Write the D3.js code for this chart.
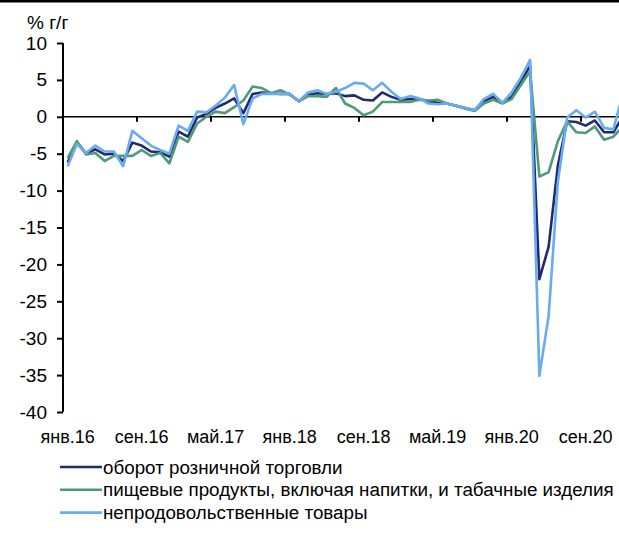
<!DOCTYPE html>
<html>
<head>
<meta charset="utf-8">
<script src="https://cdn.jsdelivr.net/npm/d3@7"></script>
<style>
  body { margin: 0; background: #fff; }
  text { font-family: "Liberation Sans", Arial, sans-serif; fill: #000; }
</style>
</head>
<body>
<div id="chart"></div>
<script>
// categories: monthly, Jan 2016 .. Jan 2021
var months = d3.timeMonths(new Date(2016, 0, 1), new Date(2021, 1, 1));

// % y/y
var retail = [-6.2, -3.5, -5.0, -4.4, -5.1, -5.0, -6.0, -3.5, -3.9, -4.7, -4.8, -5.4,
    -2.0, -2.7, -0.1, 0.4, 1.2, 1.8, 2.5, 0.5, 3.1, 3.3, 3.2, 3.1,
    3.1, 2.1, 3.0, 3.2, 3.1, 3.2, 2.8, 2.9, 2.3, 2.2, 3.3, 2.7,
    2.3, 2.4, 2.4, 2.1, 1.9, 1.8, 1.5, 1.2, 0.9, 2.1, 2.7, 1.9,
    2.7, 4.8, 6.9, -22.0, -17.6, -6.6, -0.6, -0.7, -1.2, -0.5, -2.1, -2.1,
    0.0];
var food = [-5.6, -3.3, -5.1, -4.9, -6.0, -5.3, -5.3, -5.3, -4.5, -5.3, -4.9, -6.3,
    -2.7, -3.4, -0.9, 0.0, 0.7, 0.5, 1.3, 2.2, 4.1, 3.9, 3.2, 3.6,
    3.0, 2.1, 2.8, 2.8, 2.7, 3.9, 1.8, 1.2, 0.2, 0.7, 2.0, 2.0,
    2.0, 2.0, 2.3, 2.2, 2.3, 1.8, 1.5, 1.1, 0.8, 1.8, 2.3, 1.8,
    2.4, 4.3, 6.2, -8.1, -7.5, -3.3, -0.6, -2.1, -2.2, -1.3, -3.1, -2.7,
    -1.3];
var nonfood = [-6.7, -3.7, -4.9, -3.9, -4.7, -4.7, -6.7, -1.9, -2.9, -3.9, -4.5, -5.0,
    -1.2, -1.9, 0.7, 0.6, 1.5, 2.6, 4.3, -1.0, 2.5, 3.1, 3.1, 3.1,
    3.1, 2.1, 3.3, 3.6, 3.1, 3.4, 3.9, 4.6, 4.5, 3.6, 4.6, 3.4,
    2.4, 2.8, 2.5, 1.8, 1.7, 1.8, 1.5, 1.2, 0.9, 2.4, 3.1, 1.9,
    3.3, 5.3, 7.7, -35.1, -27.0, -8.8, -0.1, 0.9, -0.1, 0.7, -1.5, -1.7,
    3.0];

var seriesNames = ["оборот розничной торговли",
    "пищевые продукты, включая напитки, и табачные изделия",
    "непродовольственные товары"];
var seriesColors = ["#1f2b6d", "#4f9a77", "#69aaf4"];

var xTickLabels = ["янв.16", "сен.16", "май.17", "янв.18", "сен.18", "май.19", "янв.20", "сен.20"];
var yTicks = [10, 5, 0, -5, -10, -15, -20, -25, -30, -35, -40];

var svgWidth = 619;
var svgHeight = 543;

var svg = d3.select("#chart")
    .append("svg")
    .attr("width", svgWidth)
    .attr("height", svgHeight);

// black rule at the very top
svg.append("rect")
    .attr("x", 0)
    .attr("y", 0)
    .attr("width", svgWidth)
    .attr("height", 2.5)
    .attr("fill", "#000");

// scales: category axis, points sit in the middle of each band
var x = d3.scaleBand()
    .domain(d3.range(months.length))
    .range([63, 63 + 9.25 * months.length]);

var y = d3.scaleLinear()
    .domain([-40, 10])
    .range([412, 43]);

// y axis
var leftAxis = d3.axisLeft(y)
    .tickValues(yTicks)
    .tickSize(6)
    .tickPadding(10)
    .tickFormat(d3.format("d"));

var yAxis = svg.append("g")
    .attr("transform", "translate(63,0)")
    .call(leftAxis);

yAxis.select(".domain")
    .attr("d", "M0," + y(10) + "V" + y(-40))
    .attr("stroke", "#000")
    .attr("stroke-width", 2);
yAxis.selectAll(".tick line")
    .attr("stroke", "#000")
    .attr("stroke-width", 2);
yAxis.selectAll(".tick text")
    .style("font-size", "19px")
    .text(d => d < 0 ? "-" + Math.abs(d) : d);

// zero line with ticks every 8 months
svg.append("line")
    .attr("x1", 63)
    .attr("x2", svgWidth)
    .attr("y1", y(0))
    .attr("y2", y(0))
    .attr("stroke", "#000")
    .attr("stroke-width", 1.6);

var tickIdx = d3.range(8, months.length, 8);
svg.selectAll(".xtick")
    .data(tickIdx)
    .enter()
    .append("line")
    .classed("xtick", true)
    .attr("x1", d => x(d))
    .attr("x2", d => x(d))
    .attr("y1", y(0))
    .attr("y2", y(0) + 5)
    .attr("stroke", "#000")
    .attr("stroke-width", 2);

// x labels under the plot, one per 8 months, centred on the month
svg.selectAll(".xlabel")
    .data(xTickLabels)
    .enter()
    .append("text")
    .classed("xlabel", true)
    .attr("x", (d, i) => x(i * 8) + x.bandwidth() / 2)
    .attr("y", 443)
    .attr("text-anchor", "middle")
    .style("font-size", "18px")
    .text(d => d);

// unit label
svg.append("text")
    .attr("x", 27)
    .attr("y", 29)
    .style("font-size", "19px")
    .text("% г/г");

// lines
var allSeries = [retail, food, nonfood];
var line = d3.line()
    .x((d, i) => x(i) + x.bandwidth() / 2)
    .y(d => y(d));

svg.selectAll(".series")
    .data(allSeries)
    .enter()
    .append("path")
    .classed("series", true)
    .attr("d", d => line(d))
    .attr("fill", "none")
    .attr("stroke", (d, i) => seriesColors[i])
    .attr("stroke-width", 2.6)
    .attr("stroke-linejoin", "round");

// legend
var legend = svg.append("g")
    .attr("transform", "translate(60,467)");

var rows = legend.selectAll("g")
    .data(seriesNames)
    .enter()
    .append("g")
    .attr("transform", (d, i) => `translate(0, ${i * 22.8})`);

rows.append("line")
    .attr("x1", 0)
    .attr("x2", 42)
    .attr("stroke", (d, i) => seriesColors[i])
    .attr("stroke-width", 2.6);

rows.append("text")
    .attr("x", 43)
    .attr("y", 6.5)
    .style("font-size", "18.8px")
    .text(d => d);
</script>
</body>
</html>
